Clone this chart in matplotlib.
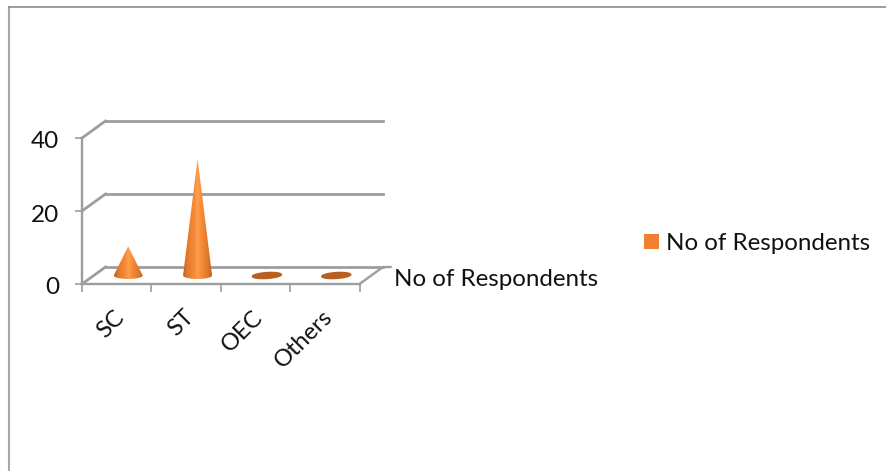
import numpy as np
import matplotlib.pyplot as plt
from matplotlib.path import Path
from matplotlib.patches import PathPatch, Rectangle
from matplotlib.transforms import Affine2D
from matplotlib.colors import LinearSegmentedColormap

categorias = ["SC", "ST", "OEC", "Others"]
respondentes = [8, 32, 0, 0]
ticks_y = [0, 20, 40]
serie = "No of Respondents"

GRIS = "#9d9d9d"
NARANJA = "#f07f32"
plt.rcParams['font.family'] = ['Lato', 'DejaVu Sans']

ANCHO, ALTO = 886, 471
fig = plt.figure(figsize=(ANCHO / 100, ALTO / 100), dpi=100)
ax = fig.add_axes([82 / ANCHO, (ALTO - 284) / ALTO, 277.5 / ANCHO, 146 / ALTO])
ax.set_xlim(0, len(categorias))
ax.set_ylim(ticks_y[0], ticks_y[-1])
ax.patch.set_visible(False)

# desplazamientos de profundidad en pixeles (pared del fondo y mitad del suelo)
fondo = ax.transData + Affine2D().translate(23.5, 17)
medio = ax.transData + Affine2D().translate(11.5, 8.5)

# ejes
for lado in ["top", "right"]:
    ax.spines[lado].set_visible(False)
for lado in ["left", "bottom"]:
    ax.spines[lado].set_color(GRIS)
    ax.spines[lado].set_linewidth(1.7)
ax.set_yticks(ticks_y)
ax.set_xticks(range(len(categorias) + 1))
ax.set_xticklabels([])
ax.set_xticks([i + 0.5 for i in range(len(categorias))], minor=True)
ax.set_xticklabels(categorias, minor=True, rotation=45, ha="right",
                   va="top", rotation_mode="anchor", fontsize=17, color="#111111")
ax.tick_params(axis="x", which="major", length=6, width=1.2, color=GRIS)
ax.tick_params(axis="x", which="minor", length=0, pad=16)
ax.tick_params(axis="y", length=5, width=1.2, color=GRIS, pad=11.5,
               labelsize=17.5, labelcolor="#111111")
for etiqueta in ax.get_yticklabels():
    etiqueta.set_transform(etiqueta.get_transform() + Affine2D().translate(0, -2))
for etiqueta in ax.get_xticklabels(minor=True):
    etiqueta.set_transform(etiqueta.get_transform() + Affine2D().translate(-3, 0))

# lineas del fondo y diagonales de las paredes
n = len(categorias)
for v in ticks_y:
    ax.plot([0, n], [v, v], color=GRIS, lw=2, transform=fondo, clip_on=False)
    x0, y0 = ax.transData.transform((0, v))
    ax.plot([x0, x0 + 23.5], [y0, y0 + 17], color=GRIS, lw=2,
            transform=None, clip_on=False)
xd, yd = ax.transData.transform((n, 0))
ax.plot([xd, xd + 23.5, xd + 31], [yd, yd + 17, yd + 17], color=GRIS, lw=1.7,
        transform=None, clip_on=False)

# conos con degradado horizontal
RADIO_X = 0.209
RADIO_Y = 0.95
degradado = LinearSegmentedColormap.from_list(
    "cono", [(0, "#c2621f"), (0.15, "#e67a2c"), (0.38, "#f58a38"), (0.5, "#ff9f4c"),
             (0.65, "#f58a38"), (0.87, "#e2762a"), (1, "#bd5f1f")])
for i, valor in enumerate(respondentes):
    cx = i + 0.5
    t = np.linspace(np.pi, 2 * np.pi, 40)
    if valor > 0:
        base = [(cx + RADIO_X * np.cos(a), RADIO_Y * np.sin(a)) for a in t]
        vertices = [(cx, valor)] + base + [(cx, valor)]
        codigos = [Path.MOVETO] + [Path.LINETO] * len(base) + [Path.CLOSEPOLY]
        parche = PathPatch(Path(vertices, codigos), fc="none", ec="none", transform=medio)
        ax.add_patch(parche)
        img = ax.imshow(np.linspace(0, 1, 64).reshape(1, -1), cmap=degradado,
                        extent=[cx - RADIO_X, cx + RADIO_X, -RADIO_Y, valor],
                        aspect="auto", transform=medio, zorder=3, clip_on=True)
        img.set_clip_path(parche)
    else:
        # categoria sin respuestas: solo el disco de la base, algo inclinado
        t = np.linspace(0, 2 * np.pi, 60)
        xs = cx + RADIO_X * np.cos(t)
        ys = RADIO_Y * 0.85 * np.sin(t) + 0.25 * (xs - cx) / RADIO_X
        ax.fill(xs, ys, color="#b95f1f", transform=medio, zorder=3, clip_on=False)
ax.set_xlim(0, n)
ax.set_ylim(ticks_y[0], ticks_y[-1])

# etiqueta del eje de series y leyenda
fig.text(394 / ANCHO, (ALTO - 279) / ALTO, serie, fontsize=17.4, va="center", color="#111111")
fig.add_artist(Rectangle((644 / ANCHO, (ALTO - 249) / ALTO), 15 / ANCHO, 15 / ALTO,
                         transform=fig.transFigure, fc=NARANJA, ec="none"))
fig.text(666 / ANCHO, (ALTO - 243) / ALTO, serie, fontsize=17.4, va="center", color="#111111")

# marco exterior
fig.add_artist(plt.Line2D([8.5 / ANCHO, 8.5 / ANCHO], [0, (ALTO - 6.5) / ALTO],
                          transform=fig.transFigure, color="#a8a8a8", lw=1.5))
fig.add_artist(plt.Line2D([8.5 / ANCHO, 1], [(ALTO - 6.5) / ALTO, (ALTO - 6.5) / ALTO],
                          transform=fig.transFigure, color="#8c8c8c", lw=1.2))

fig.savefig("out.png", dpi=100)
